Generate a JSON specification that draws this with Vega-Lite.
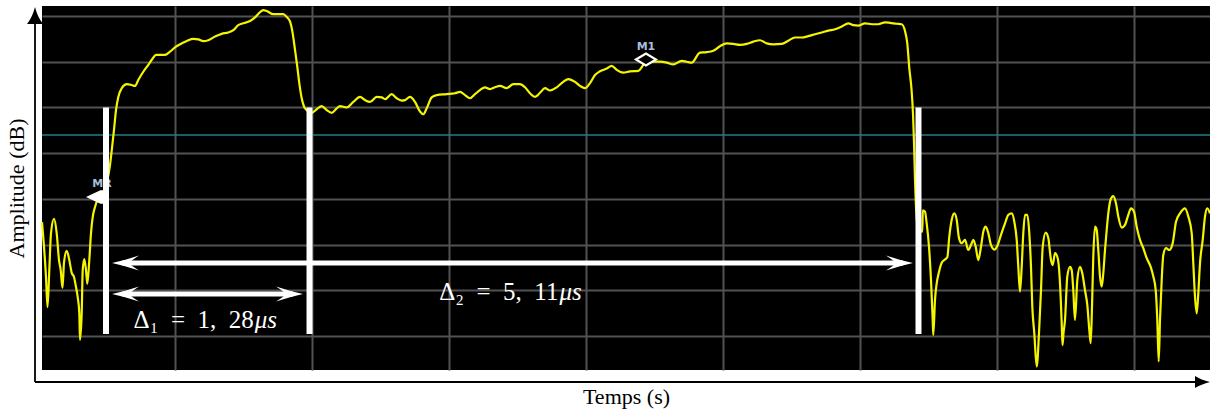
{
  "$schema": "https://vega.github.io/schema/vega-lite/v6.json",
  "width": 1168,
  "height": 364,
  "autosize": {"type": "none"},
  "padding": {"left": 42, "top": 6, "right": 0, "bottom": 42},
  "background": "white",
  "config": {"view": {"fill": "black", "stroke": null}},
  "datasets": {
    "trace": [
      {"t":-0.4025,"a":-45.1},{"t":-0.3899,"a":-50.5},{"t":-0.3774,"a":-57.1},{"t":-0.3679,"a":-63.7},{"t":-0.3566,"a":-55.6},{"t":-0.3459,"a":-47.5},{"t":-0.3270,"a":-44.4},{"t":-0.3101,"a":-47.5},{"t":-0.2956,"a":-53.4},{"t":-0.2849,"a":-55.6},{"t":-0.2736,"a":-59.5},{"t":-0.2642,"a":-54.0},{"t":-0.2472,"a":-51.4},{"t":-0.2308,"a":-53.4},{"t":-0.2157,"a":-56.2},{"t":-0.2013,"a":-57.1},{"t":-0.1887,"a":-59.3},{"t":-0.1780,"a":-61.5},{"t":-0.1679,"a":-65.0},{"t":-0.1635,"a":-70.9},{"t":-0.1528,"a":-65.0},{"t":-0.1465,"a":-55.6},{"t":-0.1365,"a":-53.2},{"t":-0.1258,"a":-55.6},{"t":-0.1176,"a":-58.6},{"t":-0.1050,"a":-53.4},{"t":-0.0943,"a":-47.5},{"t":-0.0836,"a":-44.0},{"t":-0.0692,"a":-41.8},{"t":-0.0484,"a":-39.8},{"t":-0.0170,"a":-38.5},{"t":0.0063,"a":-36.3},{"t":0.0252,"a":-32.6},{"t":0.0377,"a":-28.9},{"t":0.0503,"a":-24.9},{"t":0.0629,"a":-20.6},{"t":0.0774,"a":-17.7},{"t":0.0987,"a":-15.8},{"t":0.1302,"a":-14.9},{"t":0.1616,"a":-15.1},{"t":0.1824,"a":-15.3},{"t":0.2031,"a":-14.0},{"t":0.2346,"a":-12.2},{"t":0.2660,"a":-10.7},{"t":0.2937,"a":-9.3},{"t":0.3145,"a":-8.5},{"t":0.3711,"a":-8.5},{"t":0.4025,"a":-7.8},{"t":0.4403,"a":-6.7},{"t":0.4761,"a":-6.0},{"t":0.5113,"a":-5.4},{"t":0.5491,"a":-5.0},{"t":0.5805,"a":-5.1},{"t":0.6120,"a":-5.5},{"t":0.6434,"a":-5.3},{"t":0.6855,"a":-4.5},{"t":0.7277,"a":-3.9},{"t":0.7692,"a":-3.6},{"t":0.8006,"a":-3.1},{"t":0.8321,"a":-2.0},{"t":0.8635,"a":-1.6},{"t":0.9057,"a":-1.1},{"t":0.9371,"a":-0.3},{"t":0.9642,"a":0.7},{"t":0.9893,"a":1.3},{"t":1.0107,"a":1.1},{"t":1.0522,"a":0.4},{"t":1.1151,"a":0.4},{"t":1.1365,"a":-0.2},{"t":1.1572,"a":-1.2},{"t":1.1742,"a":-3.8},{"t":1.1887,"a":-7.4},{"t":1.2031,"a":-11.1},{"t":1.2157,"a":-14.7},{"t":1.2308,"a":-18.0},{"t":1.2453,"a":-19.8},{"t":1.2623,"a":-20.6},{"t":1.2937,"a":-21.2},{"t":1.3252,"a":-20.4},{"t":1.3566,"a":-19.7},{"t":1.3881,"a":-20.6},{"t":1.4195,"a":-21.2},{"t":1.4510,"a":-20.2},{"t":1.4717,"a":-19.7},{"t":1.5138,"a":-20.0},{"t":1.5554,"a":-18.8},{"t":1.5975,"a":-17.7},{"t":1.6289,"a":-18.4},{"t":1.6604,"a":-18.8},{"t":1.7026,"a":-17.7},{"t":1.7340,"a":-17.8},{"t":1.7547,"a":-18.2},{"t":1.7969,"a":-17.1},{"t":1.8283,"a":-18.0},{"t":1.8598,"a":-18.5},{"t":1.8805,"a":-18.4},{"t":1.9120,"a":-17.7},{"t":1.9434,"a":-18.8},{"t":1.9748,"a":-20.9},{"t":1.9956,"a":-21.5},{"t":2.0170,"a":-20.2},{"t":2.0484,"a":-17.8},{"t":2.0799,"a":-17.3},{"t":2.1428,"a":-17.1},{"t":2.1950,"a":-16.9},{"t":2.2264,"a":-16.6},{"t":2.2579,"a":-17.3},{"t":2.2893,"a":-18.0},{"t":2.3208,"a":-17.1},{"t":2.3522,"a":-16.2},{"t":2.3836,"a":-15.6},{"t":2.4151,"a":-16.0},{"t":2.4465,"a":-15.6},{"t":2.4780,"a":-15.3},{"t":2.5201,"a":-15.8},{"t":2.5616,"a":-14.9},{"t":2.6038,"a":-14.9},{"t":2.6352,"a":-15.6},{"t":2.6667,"a":-16.9},{"t":2.6981,"a":-17.7},{"t":2.7296,"a":-16.8},{"t":2.7610,"a":-15.8},{"t":2.7925,"a":-16.3},{"t":2.8346,"a":-15.6},{"t":2.8761,"a":-14.4},{"t":2.9075,"a":-13.8},{"t":2.9497,"a":-14.4},{"t":2.9811,"a":-15.3},{"t":3.0126,"a":-15.8},{"t":3.0440,"a":-14.7},{"t":3.0755,"a":-12.9},{"t":3.1069,"a":-12.1},{"t":3.1491,"a":-11.5},{"t":3.1805,"a":-10.9},{"t":3.2120,"a":-11.8},{"t":3.2535,"a":-12.4},{"t":3.2956,"a":-12.1},{"t":3.3478,"a":-12.0},{"t":3.3793,"a":-10.7},{"t":3.4007,"a":-9.6},{"t":3.4422,"a":-10.0},{"t":3.4843,"a":-10.0},{"t":3.5264,"a":-10.2},{"t":3.5680,"a":-10.6},{"t":3.6208,"a":-9.8},{"t":3.6523,"a":-10.0},{"t":3.6837,"a":-10.2},{"t":3.7358,"a":-8.0},{"t":3.7780,"a":-7.9},{"t":3.8195,"a":-7.6},{"t":3.8616,"a":-6.6},{"t":3.9038,"a":-6.0},{"t":3.9453,"a":-6.1},{"t":3.9874,"a":-6.3},{"t":4.0296,"a":-6.1},{"t":4.0711,"a":-5.6},{"t":4.1132,"a":-5.3},{"t":4.1554,"a":-6.0},{"t":4.1969,"a":-6.2},{"t":4.2497,"a":-6.1},{"t":4.2913,"a":-5.4},{"t":4.3333,"a":-4.7},{"t":4.3755,"a":-4.7},{"t":4.4170,"a":-4.4},{"t":4.4591,"a":-4.0},{"t":4.5013,"a":-3.6},{"t":4.5428,"a":-3.2},{"t":4.5849,"a":-2.9},{"t":4.6270,"a":-2.3},{"t":4.6686,"a":-1.6},{"t":4.7000,"a":-2.0},{"t":4.7314,"a":-2.1},{"t":4.7736,"a":-1.6},{"t":4.8157,"a":-1.8},{"t":4.8572,"a":-1.8},{"t":4.8994,"a":-1.4},{"t":4.9308,"a":-1.5},{"t":4.9730,"a":-1.7},{"t":5.0044,"a":-1.8},{"t":5.0252,"a":-3.3},{"t":5.0396,"a":-6.0},{"t":5.0522,"a":-11.4},{"t":5.0660,"a":-16.0},{"t":5.0755,"a":-21.4},{"t":5.0818,"a":-27.6},{"t":5.0881,"a":-35.9},{"t":5.1069,"a":-46.8},{"t":5.1340,"a":-47.2},{"t":5.1371,"a":-42.5},{"t":5.1509,"a":-42.8},{"t":5.1616,"a":-45.4},{"t":5.1761,"a":-50.5},{"t":5.1887,"a":-57.8},{"t":5.1994,"a":-66.5},{"t":5.2031,"a":-69.8},{"t":5.2138,"a":-62.1},{"t":5.2245,"a":-58.5},{"t":5.2390,"a":-56.0},{"t":5.2560,"a":-54.0},{"t":5.2723,"a":-53.4},{"t":5.2912,"a":-52.8},{"t":5.3038,"a":-48.3},{"t":5.3189,"a":-44.6},{"t":5.3352,"a":-43.2},{"t":5.3503,"a":-44.6},{"t":5.3648,"a":-48.6},{"t":5.3818,"a":-49.7},{"t":5.4025,"a":-49.0},{"t":5.4233,"a":-51.2},{"t":5.4403,"a":-50.1},{"t":5.4547,"a":-49.0},{"t":5.4698,"a":-50.5},{"t":5.4862,"a":-53.4},{"t":5.5031,"a":-50.5},{"t":5.5176,"a":-47.2},{"t":5.5327,"a":-46.1},{"t":5.5491,"a":-47.5},{"t":5.5660,"a":-50.1},{"t":5.5868,"a":-51.1},{"t":5.6082,"a":-50.1},{"t":5.6289,"a":-47.9},{"t":5.6541,"a":-45.4},{"t":5.6748,"a":-43.5},{"t":5.6962,"a":-43.2},{"t":5.7126,"a":-45.0},{"t":5.7277,"a":-49.0},{"t":5.7378,"a":-54.9},{"t":5.7484,"a":-60.3},{"t":5.7591,"a":-54.9},{"t":5.7692,"a":-47.5},{"t":5.7799,"a":-43.5},{"t":5.7943,"a":-43.5},{"t":5.8069,"a":-47.5},{"t":5.8176,"a":-54.9},{"t":5.8258,"a":-63.6},{"t":5.8384,"a":-69.4},{"t":5.8535,"a":-76.7},{"t":5.8679,"a":-69.4},{"t":5.8805,"a":-60.0},{"t":5.8912,"a":-50.5},{"t":5.9101,"a":-47.4},{"t":5.9264,"a":-48.6},{"t":5.9434,"a":-53.4},{"t":5.9541,"a":-54.5},{"t":5.9686,"a":-51.9},{"t":5.9855,"a":-53.0},{"t":6.0000,"a":-58.5},{"t":6.0107,"a":-67.2},{"t":6.0157,"a":-72.0},{"t":6.0220,"a":-69.4},{"t":6.0315,"a":-66.5},{"t":6.0459,"a":-57.0},{"t":6.0629,"a":-54.9},{"t":6.0736,"a":-55.6},{"t":6.0836,"a":-60.0},{"t":6.0943,"a":-66.5},{"t":6.1088,"a":-57.8},{"t":6.1258,"a":-54.9},{"t":6.1403,"a":-56.3},{"t":6.1572,"a":-60.0},{"t":6.1717,"a":-63.2},{"t":6.1843,"a":-68.7},{"t":6.1931,"a":-71.6},{"t":6.2013,"a":-63.6},{"t":6.2094,"a":-52.7},{"t":6.2201,"a":-46.1},{"t":6.2308,"a":-46.8},{"t":6.2409,"a":-51.2},{"t":6.2516,"a":-57.0},{"t":6.2623,"a":-59.2},{"t":6.2723,"a":-56.3},{"t":6.2830,"a":-51.2},{"t":6.2937,"a":-46.8},{"t":6.3038,"a":-43.2},{"t":6.3189,"a":-40.1},{"t":6.3352,"a":-39.4},{"t":6.3522,"a":-41.0},{"t":6.3667,"a":-43.9},{"t":6.3881,"a":-46.3},{"t":6.4088,"a":-45.7},{"t":6.4296,"a":-43.5},{"t":6.4465,"a":-42.1},{"t":6.4654,"a":-42.8},{"t":6.4824,"a":-46.1},{"t":6.5031,"a":-49.0},{"t":6.5239,"a":-50.8},{"t":6.5453,"a":-53.0},{"t":6.5704,"a":-54.9},{"t":6.5868,"a":-57.0},{"t":6.6019,"a":-60.0},{"t":6.6119,"a":-66.5},{"t":6.6208,"a":-75.6},{"t":6.6289,"a":-66.5},{"t":6.6396,"a":-57.8},{"t":6.6497,"a":-52.3},{"t":6.6667,"a":-50.8},{"t":6.6875,"a":-51.2},{"t":6.7088,"a":-49.7},{"t":6.7296,"a":-45.0},{"t":6.7547,"a":-43.2},{"t":6.7862,"a":-42.1},{"t":6.8071,"a":-43.9},{"t":6.8283,"a":-47.5},{"t":6.8384,"a":-54.1},{"t":6.8491,"a":-61.4},{"t":6.8598,"a":-65.1},{"t":6.8698,"a":-60.7},{"t":6.8805,"a":-54.1},{"t":6.8975,"a":-49.0},{"t":6.9119,"a":-43.9},{"t":6.9264,"a":-42.1},{"t":6.9434,"a":-43.2}
    ],
    "refline": [{"t": -0.4025, "t2": 6.9434, "a": -26.04}],
    "cursors": [{"t": 0, "a": -20, "a2": -69.6}, {"t": 1.28, "a": -20, "a2": -69.6}, {"t": 5.11, "a": -20, "a2": -69.6}],
    "arrows": [{"t": 0.038, "t2": 1.239, "a": -60.83}, {"t": 0.038, "t2": 5.075, "a": -54.05}],
    "tips": [
      {"t": 0.038, "a": -60.83, "dir": "left"}, {"t": 1.239, "a": -60.83, "dir": "right"},
      {"t": 0.038, "a": -54.05, "dir": "left"}, {"t": 5.075, "a": -54.05, "dir": "right"}
    ],
    "deltas": [
      {"t": 0.64, "a": -68.3, "label": "Δ₁\u2002=\u20021,\u200228", "unit": "μs"},
      {"t": 2.556, "a": -62.2, "label": "Δ₂\u2002=\u20025,\u200211", "unit": "μs"}
    ],
    "mr": [{"t": -0.0692, "a": -39.6}],
    "m1": [{"t": 3.396, "a": -9.52}],
    "markerLabels": [{"t": -0.025, "a": -37.4, "name": "MR"}, {"t": 3.396, "a": -7.44, "name": "M1"}],
    "vaxis": [{"t": -0.4465, "a": -80.09, "a2": -0.9}],
    "haxis": [{"t": -0.4465, "t2": 6.8805, "a": -80.09}],
    "vhead": [{"t": -0.4465, "a": 1.97}],
    "hhead": [{"t": 6.9434, "a": -80.09}]
  },
  "encoding": {
    "x": {
      "field": "t", "type": "quantitative",
      "scale": {"domain": [-0.4025, 6.9434], "nice": false, "zero": false},
      "axis": {
        "title": "Temps (s)", "labels": false, "ticks": false, "domain": false,
        "grid": true, "values": [0.434, 1.2956, 2.1572, 3.0189, 3.8805, 4.7421, 5.6038, 6.4654],
        "gridColor": "#525252", "gridWidth": 2, "gridOpacity": 1,
        "titleFont": "Liberation Serif", "titleFontSize": 22, "titleFontWeight": "normal",
        "titleColor": "black", "titlePadding": 16
      }
    },
    "y": {
      "field": "a", "type": "quantitative",
      "scale": {"domain": [-77.46, 2.19], "nice": false, "zero": false},
      "axis": {
        "title": "Amplitude (dB)", "labels": false, "ticks": false, "domain": false,
        "grid": true, "values": [0, -10, -20, -30, -40, -50, -60, -70],
        "gridColor": "#525252", "gridWidth": 2, "gridOpacity": 1,
        "titleFont": "Liberation Serif", "titleFontSize": 22, "titleFontWeight": "normal",
        "titleColor": "black", "titlePadding": 14
      }
    }
  },
  "layer": [
    {
      "data": {"name": "refline"},
      "mark": {"type": "rule", "color": "#1f7f80", "strokeWidth": 1.5},
      "encoding": {"x2": {"field": "t2"}}
    },
    {
      "data": {"name": "trace"},
      "mark": {"type": "line", "color": "#f5f500", "strokeWidth": 2.2, "interpolate": "monotone"},
      "encoding": {}
    },
    {
      "data": {"name": "m1"},
      "mark": {"type": "point", "shape": "M-1,0 L0,-0.6 L1,0 L0,0.6 Z", "size": 400, "filled": true, "fill": "black", "stroke": "white", "strokeWidth": 2.2, "opacity": 1},
      "encoding": {}
    },
    {
      "data": {"name": "mr"},
      "mark": {"type": "point", "shape": "M-1,0 L0.6,-0.75 L1,-0.75 L1,0.75 L0.6,0.75 Z", "size": 324, "filled": true, "color": "white", "opacity": 1},
      "encoding": {}
    },
    {
      "data": {"name": "markerLabels"},
      "mark": {"type": "text", "font": "DejaVu Sans", "fontWeight": "bold", "fontSize": 11, "color": "#a8bedc", "align": "center", "baseline": "alphabetic", "letterSpacing": 1},
      "encoding": {"text": {"field": "name"}}
    },
    {
      "data": {"name": "cursors"},
      "mark": {"type": "rule", "color": "white", "strokeWidth": 6, "strokeCap": "butt"},
      "encoding": {"y2": {"field": "a2"}}
    },
    {
      "data": {"name": "arrows"},
      "mark": {"type": "rule", "color": "white", "strokeWidth": 5, "strokeCap": "butt", "xOffset": 10, "x2Offset": -10},
      "encoding": {"x2": {"field": "t2"}}
    },
    {
      "data": {"name": "tips"},
      "transform": [{"filter": "datum.dir == 'left'"}],
      "mark": {"type": "point", "shape": "M0,0 Q1,-0.22 2,-0.56 Q1.35,-0.15 1.3,0 Q1.35,0.15 2,0.56 Q1,0.22 0,0 Z", "size": 729, "filled": true, "color": "white", "opacity": 1},
      "encoding": {}
    },
    {
      "data": {"name": "tips"},
      "transform": [{"filter": "datum.dir == 'right'"}],
      "mark": {"type": "point", "shape": "M0,0 Q-1,-0.22 -2,-0.56 Q-1.35,-0.15 -1.3,0 Q-1.35,0.15 -2,0.56 Q-1,0.22 0,0 Z", "size": 729, "filled": true, "color": "white", "opacity": 1},
      "encoding": {}
    },
    {
      "data": {"name": "deltas"},
      "mark": {"type": "text", "font": "Liberation Serif", "fontSize": 25, "color": "white", "align": "right", "baseline": "alphabetic", "dx": 46},
      "encoding": {"text": {"field": "label"}}
    },
    {
      "data": {"name": "deltas"},
      "mark": {"type": "text", "font": "Liberation Serif", "fontSize": 25, "fontStyle": "italic", "color": "white", "align": "left", "baseline": "alphabetic", "dx": 47, "letterSpacing": 2},
      "encoding": {"text": {"field": "unit"}}
    },
    {
      "data": {"name": "vaxis"},
      "mark": {"type": "rule", "color": "black", "strokeWidth": 1.8},
      "encoding": {"y2": {"field": "a2"}}
    },
    {
      "data": {"name": "haxis"},
      "mark": {"type": "rule", "color": "black", "strokeWidth": 1.8},
      "encoding": {"x2": {"field": "t2"}}
    },
    {
      "data": {"name": "vhead"},
      "mark": {"type": "point", "shape": "M0,0 Q0.3,1.2 0.94,2 L-0.94,2 Q-0.3,1.2 0,0 Z", "size": 289, "filled": true, "color": "black", "opacity": 1},
      "encoding": {}
    },
    {
      "data": {"name": "hhead"},
      "mark": {"type": "point", "shape": "M0,0 Q-1.2,-0.3 -2,-0.8 L-2,0.8 Q-1.2,0.3 0,0 Z", "size": 225, "filled": true, "color": "black", "opacity": 1},
      "encoding": {}
    }
  ]
}
